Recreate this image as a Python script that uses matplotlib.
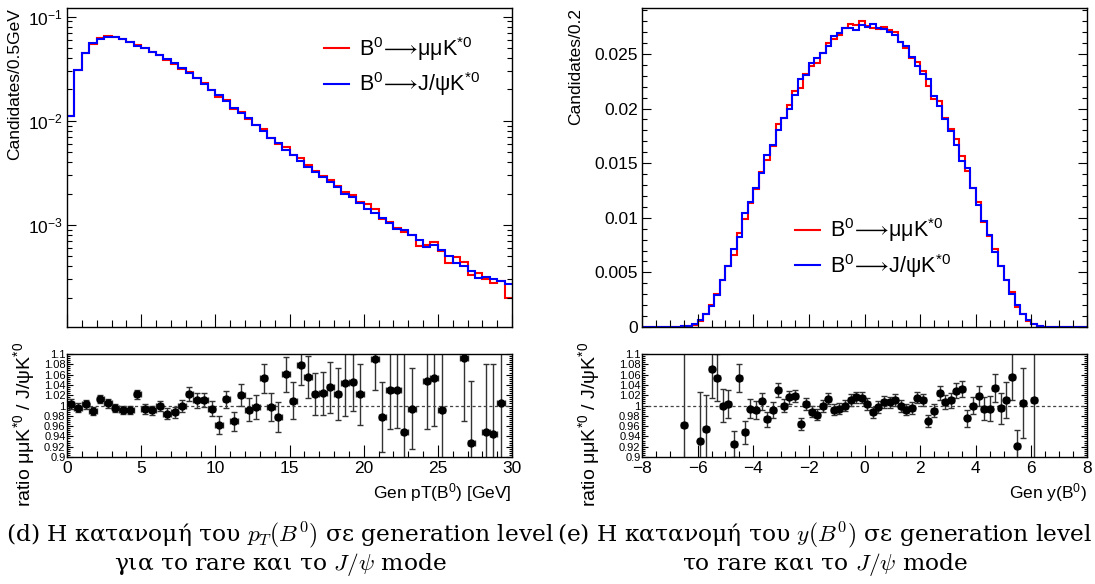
import numpy as np
import matplotlib
matplotlib.use("Agg")
import matplotlib.pyplot as plt
from matplotlib.ticker import MultipleLocator, LogLocator, NullFormatter, FuncFormatter

plt.rcParams['font.family'] = ['Liberation Sans', 'DejaVu Sans']
plt.rcParams['mathtext.fontset'] = 'custom'
plt.rcParams['mathtext.rm'] = 'Liberation Sans'
plt.rcParams['mathtext.it'] = 'Liberation Sans:italic'
plt.rcParams['mathtext.bf'] = 'Liberation Sans:bold'
plt.rcParams['mathtext.fallback'] = 'stixsans'

# ---------------- data: pT(B0), 0.5 GeV bins from 0 to 30 ----------------
pt_edges = np.arange(0, 30.5, 0.5)

pt_jpsi = [0.0112, 0.0307, 0.045, 0.0555, 0.0614, 0.0642, 0.0642, 0.061, 0.057, 0.0526,
           0.0504, 0.046, 0.0428, 0.0392, 0.0356, 0.0318, 0.029, 0.0255, 0.0226, 0.0197,
           0.0177, 0.0155, 0.0134, 0.0119, 0.0106, 0.00916, 0.0079, 0.0069, 0.0061, 0.0053,
           0.0047, 0.0041, 0.0036, 0.0032, 0.0029, 0.0026, 0.0023, 0.0020, 0.00187, 0.00164,
           0.00143, 0.00129, 0.00116, 0.00104, 0.00091, 0.00090, 0.00081, 0.00072, 0.00062, 0.00065,
           0.00057, 0.00050, 0.00043, 0.00040, 0.00036, 0.00031, 0.00032, 0.00030, 0.00029, 0.00027]

pt_mumu = [0.01123, 0.03058, 0.04509, 0.05495, 0.06214, 0.06446, 0.06388, 0.06045, 0.05654, 0.05376,
           0.05005, 0.04559, 0.04276, 0.03857, 0.03514, 0.03177, 0.02964, 0.02576, 0.02285, 0.01958,
           0.01703, 0.01569, 0.01298, 0.01215, 0.01052, 0.00913, 0.00832, 0.00688, 0.00596, 0.00562,
           0.00474, 0.00442, 0.0038, 0.00327, 0.00297, 0.00269, 0.00235, 0.00209, 0.00195, 0.00168,
           0.0016, 0.00141, 0.00113, 0.00107, 0.00094, 0.00085, 0.00081, 0.00063, 0.00065, 0.00068,
           0.00056, 0.00043, 0.00049, 0.00044, 0.00033, 0.00035, 0.0003, 0.00028, 0.00029, 0.0002]

nan = np.nan
pt_ratio = [1.003, 0.996, 1.002, 0.990, 1.012, 1.004, 0.995, 0.991, 0.992, 1.022,
            0.993, 0.991, 0.999, 0.984, 0.987, 0.999, 1.022, 1.010, 1.011, 0.994,
            0.962, 1.012, 0.969, 1.021, 0.992, 0.997, 1.053, 0.997, 0.977, 1.061,
            1.009, 1.079, 1.056, 1.022, 1.024, 1.035, 1.022, 1.043, 1.045, 1.022,
            nan, 1.090, 0.977, 1.030, 1.031, 0.948, 0.994, nan, 1.048, 1.053,
            0.991, nan, nan, 1.093, 0.928, nan, 0.948, 0.944, 1.004, nan]

pt_ratio_err = [0.010, 0.009, 0.009, 0.008, 0.008, 0.008, 0.008, 0.008, 0.008, 0.009,
                0.009, 0.009, 0.010, 0.011, 0.011, 0.012, 0.013, 0.014, 0.014, 0.015,
                0.017, 0.017, 0.019, 0.021, 0.022, 0.024, 0.028, 0.028, 0.029, 0.034,
                0.036, 0.040, 0.041, 0.041, 0.042, 0.049, 0.050, 0.063, 0.055, 0.059,
                0.065, 0.060, 0.068, 0.075, 0.075, 0.160, 0.078, 0.085, 0.094, 0.093,
                0.130, 0.110, 0.110, 0.124, 0.120, 0.130, 0.133, 0.137, 0.200, 0.150]

# ---------------- data: y(B0), 0.2 bins from -8 to 8 ----------------
y_edges = np.linspace(-8, 8, 81)

y_jpsi = [0, 0, 0, 0, 0, 0, 0, 0.00005, 0.0001, 0.00025,
          0.0006, 0.0012, 0.0019, 0.0029, 0.0043, 0.0056, 0.0071, 0.0082, 0.0104, 0.0114,
          0.0127, 0.0141, 0.0157, 0.0167, 0.018, 0.0191, 0.020, 0.0212, 0.0227, 0.0231,
          0.0242, 0.0246, 0.0251, 0.0257, 0.0266, 0.0269, 0.0274, 0.0274, 0.0272, 0.0276,
          0.0275, 0.0277, 0.0274, 0.0273, 0.027, 0.0267, 0.0261, 0.0257, 0.0247, 0.0239,
          0.0232, 0.0227, 0.0211, 0.0202, 0.019, 0.0179, 0.0167, 0.0152, 0.0146, 0.0127,
          0.0112, 0.0097, 0.0084, 0.0069, 0.0056, 0.0043, 0.003, 0.002, 0.00116, 0.0006,
          0.00025, 0.0001, 0.00004, 0, 0, 0, 0, 0, 0, 0]

y_mumu = [0, 0, 0, 0, 0, 0, 0, 0.000048, 0.00012, 0.00018,
          0.00056, 0.00115, 0.00203, 0.00306, 0.0043, 0.00562, 0.00657, 0.00864, 0.00986, 0.01133,
          0.01259, 0.01421, 0.01528, 0.01655, 0.01854, 0.0191, 0.02032, 0.0216, 0.02188, 0.02317,
          0.02391, 0.02416, 0.02507, 0.02603, 0.02639, 0.02674, 0.0274, 0.0277, 0.02764, 0.02801,
          0.02758, 0.02734, 0.02732, 0.02749, 0.02716, 0.02699, 0.02607, 0.0255, 0.02458, 0.02426,
          0.02346, 0.02202, 0.02089, 0.02068, 0.01913, 0.01808, 0.01718, 0.01569, 0.01424, 0.0127,
          0.0114, 0.00964, 0.00835, 0.00713, 0.00557, 0.00434, 0.00317, 0.00184, 0.00116, 0.00052,
          0.00025, 0.00006, 0, 0, 0, 0, 0, 0, 0, 0]

y_ratio = [nan, nan, nan, nan, nan, nan, nan, 0.962, nan, nan,
           0.931, 0.955, 1.071, 1.054, 1.000, 1.003, 0.925, 1.054, 0.948, 0.994,
           0.991, 1.008, 0.973, 0.991, 1.030, 1.000, 1.016, 1.019, 0.964, 1.003,
           0.988, 0.982, 0.999, 1.013, 0.992, 0.994, 1.000, 1.011, 1.016, 1.015,
           1.003, 0.987, 0.997, 1.007, 1.006, 1.011, 0.999, 0.992, 0.995, 1.015,
           1.011, 0.970, 0.990, 1.024, 1.007, 1.010, 1.029, 1.032, 0.975, 1.000,
           1.018, 0.994, 0.994, 1.034, 0.995, 1.010, 1.056, 0.922, 1.004, nan,
           1.011, nan, nan, nan, nan, nan, nan, nan, nan, nan]

y_ratio_err = [nan, nan, nan, nan, nan, nan, nan, 0.3, nan, nan,
               0.096, 0.066, 0.057, 0.046, 0.032, 0.028, 0.025, 0.027, 0.022, 0.018,
               0.017, 0.017, 0.015, 0.015, 0.014, 0.013, 0.013, 0.012, 0.012, 0.012,
               0.011, 0.011, 0.011, 0.011, 0.011, 0.011, 0.011, 0.011, 0.011, 0.011,
               0.011, 0.011, 0.011, 0.011, 0.011, 0.011, 0.011, 0.011, 0.011, 0.011,
               0.012, 0.012, 0.012, 0.013, 0.013, 0.014, 0.015, 0.016, 0.017, 0.017,
               0.019, 0.022, 0.025, 0.027, 0.030, 0.035, 0.046, 0.030, 0.068, nan,
               0.3, nan, nan, nan, nan, nan, nan, nan, nan, nan]

lbl_mumu = r"B$^{0}\!\longrightarrow\!$μμK$^{*0}$"
lbl_jpsi = r"B$^{0}\!\longrightarrow\!$J/ψK$^{*0}$"
ratio_title = r"ratio μμK$^{*0}$ / J/ψK$^{*0}$"

fig = plt.figure(figsize=(10.95, 5.84), dpi=100)
W, H = 1095.0, 584.0

def box(l, t, r, b):
    return [l / W, 1 - b / H, (r - l) / W, (b - t) / H]

axL = fig.add_axes(box(67, 8, 512, 327))
axLr = fig.add_axes(box(67, 354, 512, 457))
axR = fig.add_axes(box(642, 8, 1087, 327))
axRr = fig.add_axes(box(642, 354, 1087, 457))

for ax in (axL, axLr, axR, axRr):
    for s in ax.spines.values():
        s.set_linewidth(1.0)

def style_top(ax):
    ax.tick_params(axis='both', which='both', direction='in', right=True, top=False,
                   labelbottom=False, width=0.8, labelsize=12.5)
    ax.tick_params(axis='x', which='major', length=9.4)
    ax.tick_params(axis='x', which='minor', length=5)
    ax.tick_params(axis='y', which='major', length=6.5, pad=3)
    ax.tick_params(axis='y', which='minor', length=3.6)

def style_ratio(ax):
    ax.tick_params(axis='both', which='both', direction='in', right=True, top=False, width=0.8)
    ax.tick_params(axis='x', which='major', length=8.6, labelsize=12.5, pad=3)
    ax.tick_params(axis='x', which='minor', length=4.3)
    ax.tick_params(axis='y', which='major', length=4.3, labelsize=8, pad=1)
    ax.tick_params(axis='y', which='minor', length=2.2)
    ax.set_ylim(0.9, 1.1)
    ax.yaxis.set_major_locator(MultipleLocator(0.02))
    ax.yaxis.set_minor_locator(MultipleLocator(0.004))
    ax.yaxis.set_major_formatter(FuncFormatter(lambda v, p: "{:g}".format(round(v, 3))))
    ax.axhline(1.0, color='#444444', lw=0.9, ls=(0, (2.5, 2)))

leg_kw = dict(loc='upper left', frameon=False, fontsize=15.5, handlelength=1.15,
              handletextpad=0.45, labelspacing=0.35, borderpad=0, borderaxespad=0)

# ---- left: pT ----
axL.stairs(pt_mumu, pt_edges, color='#ff0000', lw=1.5, baseline=None, label=lbl_mumu)
axL.stairs(pt_jpsi, pt_edges, color='#0000ff', lw=1.5, baseline=None, label=lbl_jpsi)
axL.set_yscale('log')
axL.set_xlim(0, 30)
axL.set_ylim(1.05e-4, 0.121)
axL.xaxis.set_major_locator(MultipleLocator(5))
axL.xaxis.set_minor_locator(MultipleLocator(1))
axL.yaxis.set_minor_locator(LogLocator(base=10, subs=np.arange(2, 10)))
axL.yaxis.set_minor_formatter(NullFormatter())
style_top(axL)
axL.set_ylabel("Candidates/0.5GeV", fontsize=12.5, loc='top')
axL.yaxis.set_label_coords(-0.101, 1.0)
axL.legend(bbox_to_anchor=(0.578, 0.915), **leg_kw)

pt_centers = (pt_edges[:-1] + pt_edges[1:]) / 2
axLr.errorbar(pt_centers, pt_ratio, yerr=pt_ratio_err, xerr=0.25, fmt='o', color='black',
              ms=5, elinewidth=1, ecolor='#333333', capsize=2, capthick=1)
axLr.set_xlim(0, 30)
axLr.xaxis.set_major_locator(MultipleLocator(5))
axLr.xaxis.set_minor_locator(MultipleLocator(1))
style_ratio(axLr)
axLr.set_xlabel(r"Gen pT(B$^{0}$) [GeV]", fontsize=12.5, loc='right')
axLr.xaxis.set_label_coords(1.0, -0.23)
axLr.set_ylabel(ratio_title, fontsize=14, loc='top')
axLr.yaxis.set_label_coords(-0.068, 1.117)

# ---- right: y ----
axR.stairs(y_mumu, y_edges, color='#ff0000', lw=1.5, baseline=None, label=lbl_mumu)
axR.stairs(y_jpsi, y_edges, color='#0000ff', lw=1.5, baseline=None, label=lbl_jpsi)
axR.set_xlim(-8, 8)
axR.set_ylim(0, 0.0292)
axR.xaxis.set_major_locator(MultipleLocator(2))
axR.xaxis.set_minor_locator(MultipleLocator(0.5))
axR.yaxis.set_major_locator(MultipleLocator(0.005))
axR.yaxis.set_minor_locator(MultipleLocator(0.001))
axR.yaxis.set_major_formatter(FuncFormatter(lambda v, p: "{:g}".format(round(v, 4))))
style_top(axR)
axR.set_ylabel("Candidates/0.2", fontsize=12.5, loc='top')
axR.yaxis.set_label_coords(-0.133, 1.0)
axR.legend(bbox_to_anchor=(0.344, 0.347), **leg_kw)

y_centers = (y_edges[:-1] + y_edges[1:]) / 2
axRr.errorbar(y_centers, y_ratio, yerr=y_ratio_err, xerr=0.1, fmt='o', color='black',
              ms=5, elinewidth=1, ecolor='#333333', capsize=2, capthick=1)
axRr.set_xlim(-8, 8)
axRr.xaxis.set_major_locator(MultipleLocator(2))
axRr.xaxis.set_minor_locator(MultipleLocator(0.5))
style_ratio(axRr)
axRr.set_xlabel(r"Gen y(B$^{0}$)", fontsize=12.5, loc='right')
axRr.xaxis.set_label_coords(1.0, -0.23)
axRr.set_ylabel(ratio_title, fontsize=14, loc='top')
axRr.yaxis.set_label_coords(-0.091, 1.117)

# ---- captions ----
cap = dict(ha='center', va='center', fontsize=16.8, family=['DejaVu Serif'], math_fontfamily='cm')
fig.text(280 / W, 1 - 535 / H, r"(d) Η κατανομή του $p_T(B^0)$ σε generation level", **cap)
fig.text(280 / W, 1 - 565 / H, r"για το rare και το $J/\psi$ mode", **cap)
fig.text(825 / W, 1 - 535 / H, r"(e) Η κατανομή του $y(B^0)$ σε generation level", **cap)
fig.text(825 / W, 1 - 565 / H, r"το rare και το $J/\psi$ mode", **cap)

fig.savefig("out.png", dpi=100)
